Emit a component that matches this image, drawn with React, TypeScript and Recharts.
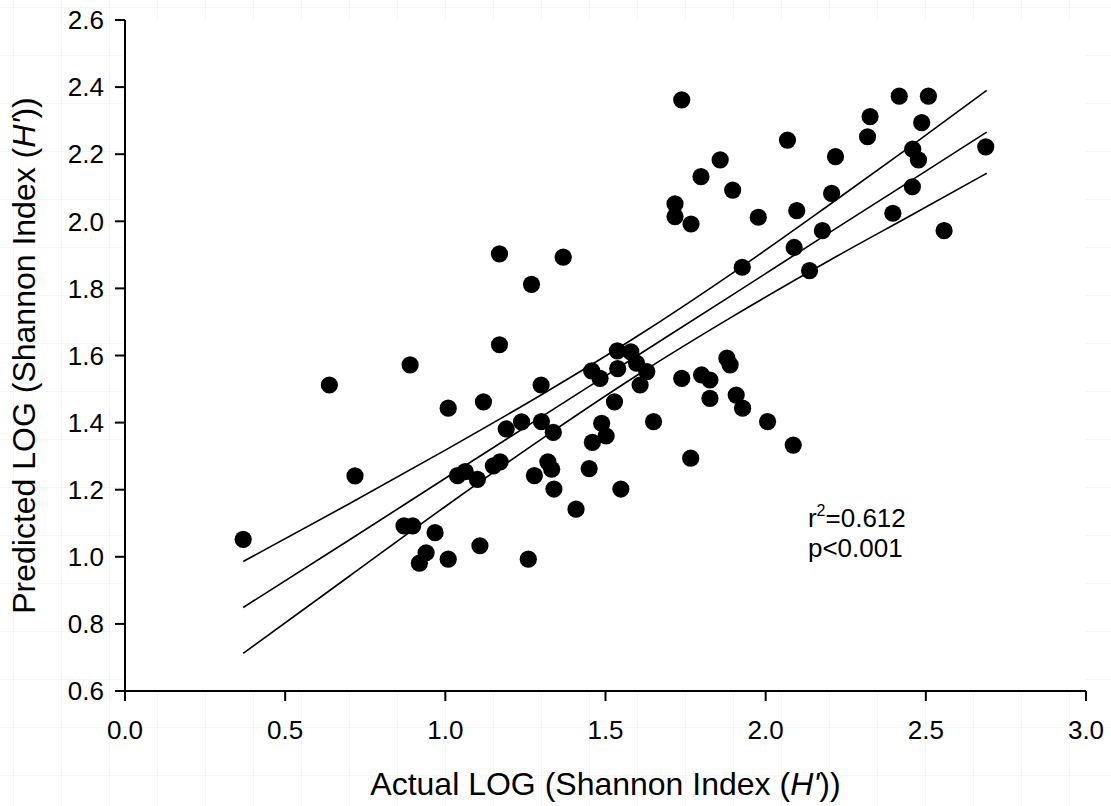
import React from 'react';
import { ScatterChart, Scatter, XAxis, YAxis, CartesianGrid, ReferenceDot } from 'recharts';

const actualLog = [
  0.369, 0.638, 0.718, 0.890, 0.871, 0.898, 0.968, 0.940, 0.919, 1.009,
  1.009, 1.108, 1.259, 1.038, 1.062, 1.100, 1.119, 1.150, 1.171, 1.169,
  1.169, 1.190, 1.238, 1.269, 1.278, 1.299, 1.300, 1.320, 1.332, 1.337,
  1.339, 1.368, 1.408, 1.449, 1.457, 1.459, 1.483, 1.488, 1.502, 1.528,
  1.537, 1.538, 1.548, 1.579, 1.597, 1.608, 1.629, 1.650, 1.717, 1.717,
  1.738, 1.738, 1.766, 1.767, 1.798, 1.800, 1.826, 1.826, 1.858, 1.879,
  1.889, 1.897, 1.908, 1.927, 1.928, 1.977, 2.006, 2.068, 2.086, 2.089,
  2.097, 2.137, 2.177, 2.206, 2.218, 2.318, 2.326, 2.397, 2.417, 2.458,
  2.459, 2.477, 2.487, 2.508, 2.557, 2.687,
];
const predictedLog = [
  1.052, 1.512, 1.241, 1.572, 1.092, 1.092, 1.072, 1.012, 0.981, 0.993,
  1.443, 1.033, 0.993, 1.242, 1.254, 1.231, 1.462, 1.271, 1.283, 1.632,
  1.903, 1.381, 1.402, 1.812, 1.242, 1.512, 1.403, 1.283, 1.261, 1.371,
  1.202, 1.893, 1.142, 1.263, 1.554, 1.341, 1.532, 1.398, 1.360, 1.462,
  1.614, 1.561, 1.202, 1.611, 1.577, 1.512, 1.552, 1.403, 2.052, 2.014,
  2.362, 1.532, 1.294, 1.992, 2.133, 1.542, 1.527, 1.472, 2.183, 1.592,
  1.572, 2.093, 1.482, 1.863, 1.443, 2.012, 1.403, 2.242, 1.333, 1.922,
  2.032, 1.853, 1.972, 2.083, 2.193, 2.252, 2.312, 2.024, 2.373, 2.103,
  2.215, 2.183, 2.294, 2.373, 1.972, 2.222,
];

// regression line and 95% confidence band
const fitX = [0.369, 0.7, 1.0, 1.3, 1.6, 1.9, 2.2, 2.45, 2.69];
const fitMid = [0.849, 1.050, 1.234, 1.417, 1.600, 1.783, 1.967, 2.119, 2.266];
const fitUpper = [0.986, 1.158, 1.318, 1.483, 1.658, 1.848, 2.050, 2.222, 2.390];
const fitLower = [0.712, 0.942, 1.150, 1.351, 1.542, 1.718, 1.884, 2.016, 2.143];

const xTicks = [0, 0.5, 1.0, 1.5, 2.0, 2.5, 3.0];
const yTicks = [0.6, 0.8, 1.0, 1.2, 1.4, 1.6, 1.8, 2.0, 2.2, 2.4, 2.6];

const points = actualLog.map((x, i) => ({ x, y: predictedLog[i] }));
const mkLine = (ys: number[]) => fitX.map((x, i) => ({ x, y: ys[i] }));

const FONT = 'Arial, "Liberation Sans", sans-serif';

const Dot = (p: any) => <circle cx={p.cx} cy={p.cy} r={8.6} fill="#000" />;
const NoShape = () => <g />;

const XTitle = (props: any) => {
  const vb = props.viewBox || {};
  return (
    <text x={vb.x + vb.width / 2} y={vb.y + 104} textAnchor="middle" fontSize={32} fontFamily={FONT} fill="#000">
      Actual LOG (Shannon Index (<tspan fontStyle="italic">H'</tspan>))
    </text>
  );
};

const YTitle = (props: any) => {
  const vb = props.viewBox || {};
  const cy = vb.y + vb.height / 2;
  return (
    <text x={35} y={cy} transform={`rotate(-90, 35, ${cy})`} textAnchor="middle" fontSize={32} fontFamily={FONT} fill="#000">
      Predicted LOG (Shannon Index (<tspan fontStyle="italic">H'</tspan>))
    </text>
  );
};

const StatsLabel = (props: any) => {
  const vb = props.viewBox || {};
  return (
    <text x={vb.x} y={vb.y} fontSize={26} fontFamily={FONT} fill="#000">
      <tspan>r</tspan>
      <tspan fontSize={16} dy={-11}>2</tspan>
      <tspan dy={11}>=0.612</tspan>
      <tspan x={vb.x} dy={30}>p&lt;0.001</tspan>
    </text>
  );
};

export default function App() {
  return (
    <div
      style={{
        position: 'absolute', left: 0, top: 0, width: 1111, height: 806,
        backgroundColor: '#fff',
        backgroundImage:
          'linear-gradient(to right, #ecf9f9 1px, transparent 1px), linear-gradient(to bottom, #ecf9f9 1px, transparent 1px)',
        backgroundSize: '48px 48px',
        backgroundPosition: '13px 7px',
      }}
    >
      <ScatterChart width={1111} height={806} margin={{ top: 20, right: 25, bottom: 0, left: 0 }}>
        <CartesianGrid horizontal={false} vertical={false} fill="#fff" />
        <XAxis
          type="number" dataKey="x" domain={[0, 3]} ticks={xTicks} height={115}
          tickFormatter={(v: number) => v.toFixed(1)}
          tickSize={10} tickMargin={20}
          axisLine={{ stroke: '#000', strokeWidth: 2 }}
          tickLine={{ stroke: '#000', strokeWidth: 2 }}
          tick={{ fill: '#000', fontSize: 26, fontFamily: FONT }}
          label={<XTitle />}
        />
        <YAxis
          type="number" dataKey="y" domain={[0.6, 2.6]} ticks={yTicks} width={125}
          tickFormatter={(v: number) => v.toFixed(1)}
          tickSize={10} tickMargin={11}
          axisLine={{ stroke: '#000', strokeWidth: 2 }}
          tickLine={{ stroke: '#000', strokeWidth: 2 }}
          tick={{ fill: '#000', fontSize: 26, fontFamily: FONT }}
          label={<YTitle />}
        />
        <Scatter data={mkLine(fitUpper)} line={{ stroke: '#000', strokeWidth: 1.6 }} lineJointType="monotoneX" shape={<NoShape />} isAnimationActive={false} />
        <Scatter data={mkLine(fitMid)} line={{ stroke: '#000', strokeWidth: 1.6 }} lineJointType="monotoneX" shape={<NoShape />} isAnimationActive={false} />
        <Scatter data={mkLine(fitLower)} line={{ stroke: '#000', strokeWidth: 1.6 }} lineJointType="monotoneX" shape={<NoShape />} isAnimationActive={false} />
        <Scatter data={points} fill="#000" shape={<Dot />} isAnimationActive={false} />
        <ReferenceDot x={2.132} y={1.09} r={0} fill="none" stroke="none" label={<StatsLabel />} />
      </ScatterChart>
    </div>
  );
}
